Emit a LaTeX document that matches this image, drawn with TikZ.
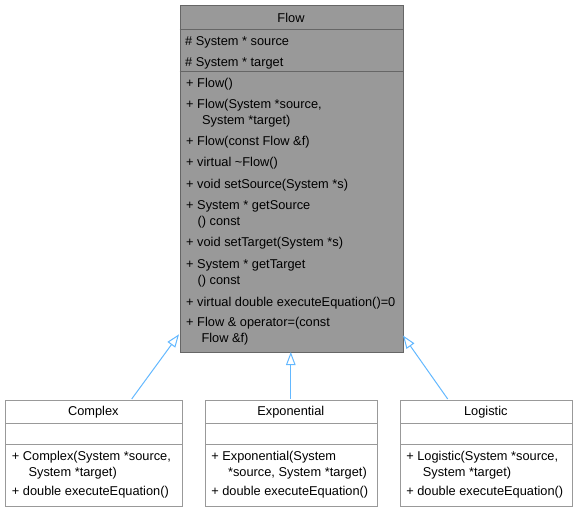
\documentclass[tikz,border=0pt]{standalone}
\usepackage{fontspec}
\setmainfont{Liberation Sans}
\usetikzlibrary{arrows.meta}
\definecolor{flowfill}{HTML}{999999}
\definecolor{flowdraw}{HTML}{666666}
\definecolor{childdraw}{HTML}{999999}
\definecolor{inhcol}{HTML}{63B8FF}
\tikzset{
  flowbox/.style={draw=flowdraw, fill=flowfill, line width=1pt, rectangle, inner sep=0pt, anchor=north west},
  childbox/.style={draw=childdraw, fill=white, line width=1pt, rectangle, inner sep=0pt, anchor=north west, minimum width=171.7pt, minimum height=106pt},
  flowsep/.style={draw=flowdraw, line width=1pt},
  childsep/.style={draw=childdraw, line width=1pt},
  txt/.style={anchor=base west, inner sep=0pt, font=\fontsize{12.8}{15}\selectfont},
  ttl/.style={anchor=base, inner sep=0pt, font=\fontsize{12.8}{15}\selectfont},
  inh/.style={draw=inhcol, line width=1pt, -{Triangle[open, length=13pt, width=9.5pt, fill=white]}}
}
\begin{document}
\begin{tikzpicture}[x=1pt,y=-1pt]
\useasboundingbox (0,0) rectangle (576,512);
% Flow
\node[flowbox, minimum width=223pt, minimum height=346.5pt] (flow) at (179.5,5) {};
\draw[flowsep] (flow.west |- 0,29) -- (flow.east |- 0,29);
\draw[flowsep] (flow.west |- 0,71) -- (flow.east |- 0,71);
\node[ttl] (ft) at (291,22.7) {Flow};
\node[txt] (fa1) at (185,45.7) {\# System * source};
\node[txt] (fa2) at (185,66.5) {\# System * target};
\node[txt] (fm1) at (186,87.3) {+ Flow()};
\node[txt] (fm2) at (186,108.3) {+ Flow(System *source,};
\node[txt] (fm2b) at (202,124) {System *target)};
\node[txt] (fm3) at (186,145) {+ Flow(const Flow \&f)};
\node[txt] (fm4) at (186,166.5) {+ virtual \textasciitilde Flow()};
\node[txt] (fm5) at (186,188) {+ void setSource(System *s)};
\node[txt] (fm6) at (186,209) {+ System * getSource};
\node[txt] (fm6b) at (197.4,225) {() const};
\node[txt] (fm7) at (186,246.7) {+ void setTarget(System *s)};
\node[txt] (fm8) at (186,268) {+ System * getTarget};
\node[txt] (fm8b) at (197.4,284.3) {() const};
\node[txt] (fm9) at (186,306) {+ virtual double executeEquation()=0};
\node[txt] (fm10) at (186,326.7) {+ Flow \& operator=(const};
\node[txt] (fm10b) at (201.3,342.7) {Flow \&f)};
% Complex
\node[childbox, minimum width=176.5pt] (complex) at (5,399.5) {};
\draw[childsep] (complex.west |- 0,423) -- (complex.east |- 0,423);
\draw[childsep] (complex.west |- 0,444.5) -- (complex.east |- 0,444.5);
\node[ttl] (ct) at (93.3,415.7) {Complex};
\node[txt] (cm1) at (11.7,460) {+ Complex(System *source,};
\node[txt] (cm1b) at (28.4,476) {System *target)};
\node[txt] (cm2) at (11.7,495) {+ double executeEquation()};
% Exponential
\node[childbox] (expo) at (205,399.5) {};
\draw[childsep] (expo.west |- 0,423) -- (expo.east |- 0,423);
\draw[childsep] (expo.west |- 0,444.5) -- (expo.east |- 0,444.5);
\node[ttl] (et) at (290.8,415.7) {Exponential};
\node[txt] (em1) at (211.1,460) {+ Exponential(System};
\node[txt] (em1b) at (227.9,476) {*source, System *target)};
\node[txt] (em2) at (211.1,495) {+ double executeEquation()};
% Logistic
\node[childbox] (logi) at (400,399.5) {};
\draw[childsep] (logi.west |- 0,423) -- (logi.east |- 0,423);
\draw[childsep] (logi.west |- 0,444.5) -- (logi.east |- 0,444.5);
\node[ttl] (lt) at (485.8,415.7) {Logistic};
\node[txt] (lm1) at (406.1,460) {+ Logistic(System *source,};
\node[txt] (lm1b) at (422.7,476) {System *target)};
\node[txt] (lm2) at (406.1,495) {+ double executeEquation()};
% inheritance
\coordinate (ctail) at (131.7,399);
\coordinate (ctip) at (179,334.3);
\coordinate (etail) at (290.8,399);
\coordinate (etip) at (290.8,352);
\coordinate (ltail) at (447.7,399);
\coordinate (ltip) at (403,335.5);
\draw[inh] (ctail) -- (ctip);
\draw[inh] (etail) -- (etip);
\draw[inh] (ltail) -- (ltip);
\end{tikzpicture}
\end{document}
